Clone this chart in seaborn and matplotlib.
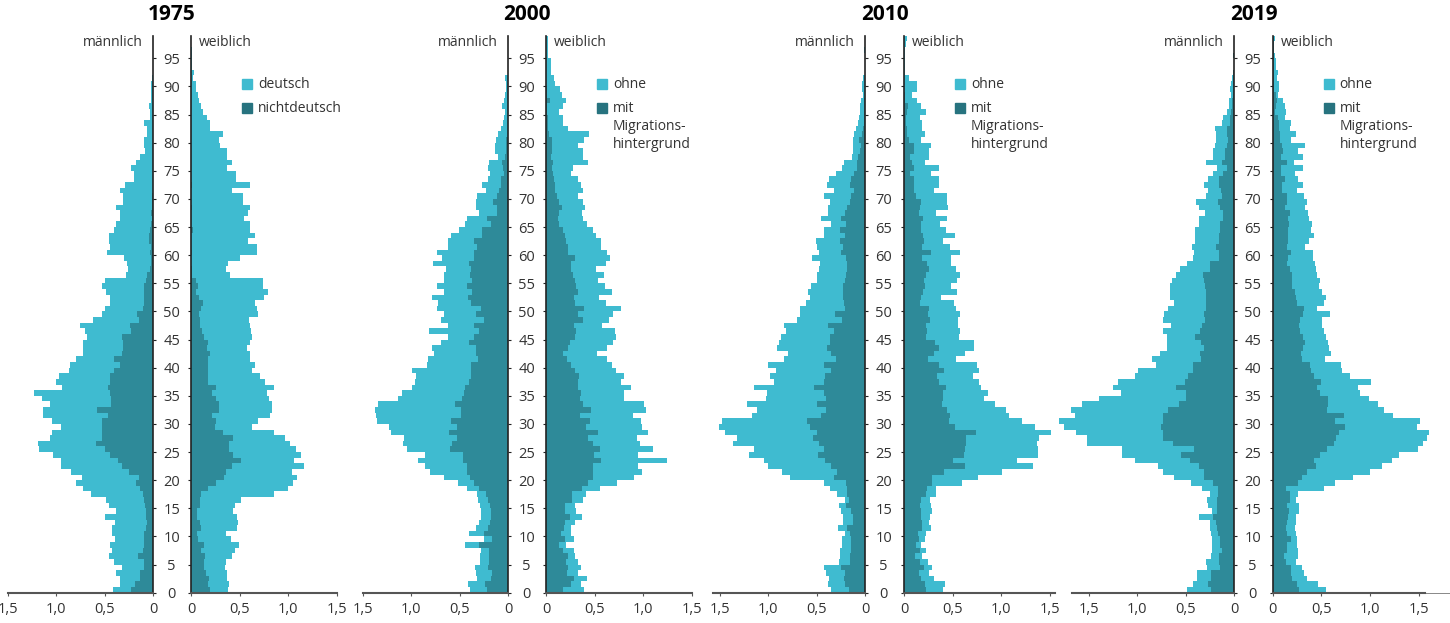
import numpy as np
import pandas as pd
import matplotlib.pyplot as plt
import seaborn as sns
from matplotlib.patches import Rectangle

# Alter 0..98, Werte = Anteil an der Bevölkerung in %
ages = list(range(99))

# 1975: gesamt (deutsch + nichtdeutsch) und nichtdeutsch
m1975_total = [0.41, 0.34, 0.34, 0.38, 0.32, 0.40, 0.46, 0.42, 0.45, 0.39,
               0.42, 0.42, 0.39, 0.50, 0.38, 0.46, 0.49, 0.64, 0.72, 0.80,
               0.73, 0.85, 0.95, 0.95, 1.03, 1.18, 1.19, 1.06, 1.04, 0.95,
               1.04, 1.13, 1.13, 1.06, 1.14, 1.23, 0.94, 1.00, 0.97, 0.87,
               0.86, 0.80, 0.72, 0.72, 0.72, 0.68, 0.70, 0.75, 0.62, 0.53,
               0.50, 0.45, 0.45, 0.49, 0.53, 0.50, 0.28, 0.26, 0.27, 0.30,
               0.48, 0.45, 0.46, 0.46, 0.40, 0.38, 0.34, 0.34, 0.38, 0.31,
               0.31, 0.34, 0.29, 0.20, 0.20, 0.23, 0.18, 0.14, 0.085, 0.10,
               0.10, 0.06, 0.06, 0.10, 0.035, 0.035, 0.04, 0.025, 0.025, 0.025,
               0.02, 0.01, 0, 0, 0, 0, 0, 0, 0]
m1975_nd = [0.23, 0.19, 0.14, 0.14, 0.10, 0.10, 0.16, 0.11, 0.10, 0.10,
            0.10, 0.08, 0.06, 0.07, 0.08, 0.085, 0.10, 0.11, 0.14, 0.18,
            0.15, 0.25, 0.32, 0.36, 0.45, 0.50, 0.59, 0.53, 0.53, 0.53,
            0.53, 0.47, 0.58, 0.44, 0.44, 0.45, 0.47, 0.45, 0.45, 0.40,
            0.34, 0.40, 0.32, 0.31, 0.31, 0.32, 0.23, 0.24, 0.15, 0.17,
            0.11, 0.10, 0.10, 0.10, 0.10, 0.08, 0.06, 0.03, 0.02, 0.02,
            0.03, 0.02, 0.045, 0.045, 0.03, 0.02, 0.01, 0.02, 0.01, 0.01,
            0.01, 0, 0, 0, 0, 0, 0, 0, 0, 0,
            0, 0, 0, 0, 0, 0, 0, 0, 0, 0,
            0, 0, 0, 0, 0, 0, 0, 0, 0]
f1975_total = [0.38, 0.39, 0.37, 0.37, 0.35, 0.36, 0.42, 0.45, 0.49, 0.41,
               0.36, 0.47, 0.48, 0.47, 0.43, 0.45, 0.51, 0.85, 1.00, 1.05,
               1.09, 1.04, 1.16, 1.06, 1.13, 1.08, 1.02, 0.97, 0.85, 0.63,
               0.69, 0.81, 0.83, 0.83, 0.80, 0.78, 0.85, 0.76, 0.71, 0.63,
               0.66, 0.61, 0.61, 0.58, 0.61, 0.63, 0.62, 0.61, 0.60, 0.69,
               0.68, 0.66, 0.75, 0.79, 0.74, 0.74, 0.40, 0.36, 0.38, 0.50,
               0.68, 0.68, 0.59, 0.66, 0.61, 0.61, 0.55, 0.59, 0.61, 0.53,
               0.53, 0.42, 0.61, 0.46, 0.46, 0.37, 0.42, 0.37, 0.37, 0.30,
               0.29, 0.33, 0.20, 0.20, 0.16, 0.12, 0.10, 0.08, 0.07, 0.05,
               0.05, 0.025, 0.03, 0.015, 0.015, 0.012, 0.008, 0.005, 0]
f1975_nd = [0.20, 0.18, 0.19, 0.15, 0.13, 0.13, 0.14, 0.10, 0.13, 0.075,
            0.065, 0.10, 0.09, 0.065, 0.065, 0.09, 0.09, 0.10, 0.18, 0.26,
            0.34, 0.36, 0.42, 0.51, 0.43, 0.39, 0.39, 0.43, 0.33, 0.25,
            0.26, 0.22, 0.29, 0.29, 0.26, 0.22, 0.26, 0.18, 0.18, 0.18,
            0.18, 0.18, 0.20, 0.16, 0.17, 0.13, 0.11, 0.09, 0.09, 0.08,
            0.10, 0.12, 0.08, 0.05, 0.07, 0.05, 0.015, 0.015, 0, 0,
            0.01, 0, 0, 0, 0.025, 0, 0, 0, 0.01, 0,
            0, 0, 0.01, 0, 0, 0, 0, 0, 0, 0,
            0, 0, 0, 0, 0, 0, 0, 0, 0, 0,
            0, 0, 0, 0, 0, 0, 0, 0, 0]

# 2000: gesamt (ohne + mit) und mit Migrationshintergrund
m2000_total = [0.39, 0.41, 0.32, 0.33, 0.34, 0.29, 0.29, 0.28, 0.45, 0.25,
               0.40, 0.33, 0.30, 0.28, 0.28, 0.29, 0.31, 0.32, 0.43, 0.52,
               0.66, 0.81, 0.86, 0.93, 0.86, 1.04, 1.08, 1.07, 1.21, 1.23,
               1.35, 1.36, 1.37, 1.34, 1.13, 1.09, 0.99, 0.96, 0.95, 0.99,
               0.84, 0.83, 0.76, 0.78, 0.69, 0.62, 0.82, 0.62, 0.69, 0.66,
               0.73, 0.72, 0.78, 0.66, 0.73, 0.66, 0.66, 0.64, 0.77, 0.68,
               0.73, 0.62, 0.62, 0.59, 0.51, 0.45, 0.43, 0.30, 0.33, 0.33,
               0.32, 0.23, 0.27, 0.21, 0.19, 0.21, 0.20, 0.11, 0.14, 0.14,
               0.13, 0.11, 0.08, 0.05, 0.045, 0.03, 0.06, 0.045, 0.03, 0.02,
               0.02, 0.035, 0, 0, 0, 0, 0, 0, 0]
m2000_mh = [0.22, 0.24, 0.18, 0.17, 0.21, 0.20, 0.20, 0.20, 0.30, 0.17,
            0.25, 0.21, 0.19, 0.18, 0.18, 0.19, 0.21, 0.23, 0.30, 0.35,
            0.39, 0.43, 0.43, 0.47, 0.47, 0.60, 0.58, 0.53, 0.61, 0.53,
            0.59, 0.49, 0.49, 0.55, 0.48, 0.46, 0.45, 0.40, 0.38, 0.38,
            0.38, 0.31, 0.33, 0.33, 0.40, 0.35, 0.30, 0.35, 0.25, 0.33,
            0.28, 0.38, 0.41, 0.37, 0.43, 0.37, 0.39, 0.38, 0.40, 0.35,
            0.35, 0.32, 0.35, 0.27, 0.27, 0.18, 0.22, 0.12, 0.12, 0.16,
            0.12, 0.10, 0.08, 0.07, 0.045, 0.05, 0.06, 0.03, 0.02, 0.02,
            0.02, 0, 0, 0, 0, 0, 0, 0, 0, 0,
            0, 0, 0, 0, 0, 0, 0, 0, 0]
f2000_total = [0.39, 0.36, 0.42, 0.33, 0.36, 0.33, 0.30, 0.29, 0.21, 0.29,
               0.26, 0.26, 0.30, 0.37, 0.31, 0.30, 0.38, 0.41, 0.56, 0.73,
               0.91, 0.99, 0.95, 1.24, 0.95, 1.10, 0.97, 0.94, 1.05, 0.99,
               0.98, 0.89, 1.03, 1.01, 0.80, 0.80, 0.87, 0.77, 0.80, 0.72,
               0.68, 0.63, 0.52, 0.63, 0.69, 0.72, 0.71, 0.58, 0.65, 0.69,
               0.77, 0.62, 0.55, 0.68, 0.61, 0.54, 0.60, 0.51, 0.62, 0.66,
               0.63, 0.57, 0.57, 0.51, 0.48, 0.42, 0.38, 0.37, 0.40, 0.38,
               0.33, 0.38, 0.36, 0.33, 0.26, 0.28, 0.43, 0.38, 0.38, 0.33,
               0.39, 0.44, 0.23, 0.18, 0.18, 0.13, 0.17, 0.21, 0.16, 0.14,
               0.09, 0.08, 0.05, 0.05, 0.05, 0.02, 0.02, 0.02, 0.02]
f2000_mh = [0.18, 0.26, 0.29, 0.22, 0.23, 0.21, 0.23, 0.17, 0.13, 0.20,
            0.15, 0.19, 0.20, 0.25, 0.20, 0.20, 0.27, 0.27, 0.37, 0.43,
            0.48, 0.48, 0.48, 0.57, 0.49, 0.56, 0.48, 0.43, 0.53, 0.41,
            0.45, 0.35, 0.46, 0.38, 0.35, 0.36, 0.33, 0.33, 0.34, 0.30,
            0.26, 0.22, 0.18, 0.23, 0.25, 0.30, 0.31, 0.29, 0.38, 0.33,
            0.39, 0.30, 0.29, 0.33, 0.31, 0.30, 0.28, 0.26, 0.26, 0.30,
            0.23, 0.23, 0.21, 0.20, 0.17, 0.13, 0.12, 0.13, 0.16, 0.13,
            0.11, 0.09, 0.09, 0.08, 0.075, 0.065, 0.075, 0.05, 0.06, 0.06,
            0.06, 0.03, 0.02, 0.02, 0.02, 0.01, 0.01, 0.04, 0.01, 0.01,
            0, 0, 0, 0, 0, 0, 0, 0, 0]

# 2010
m2010_total = [0.35, 0.38, 0.37, 0.40, 0.42, 0.27, 0.26, 0.26, 0.24, 0.24,
               0.21, 0.28, 0.23, 0.23, 0.25, 0.27, 0.21, 0.29, 0.36, 0.42,
               0.77, 0.86, 1.00, 1.04, 1.20, 1.15, 1.36, 1.32, 1.44, 1.51,
               1.47, 1.17, 1.11, 1.22, 1.02, 1.01, 1.15, 0.94, 0.98, 0.92,
               1.00, 0.84, 0.80, 0.91, 0.89, 0.87, 0.82, 0.84, 0.70, 0.67,
               0.67, 0.61, 0.57, 0.59, 0.56, 0.50, 0.50, 0.48, 0.47, 0.55,
               0.48, 0.50, 0.51, 0.42, 0.43, 0.35, 0.46, 0.38, 0.38, 0.36,
               0.42, 0.32, 0.39, 0.37, 0.30, 0.24, 0.22, 0.14, 0.13, 0.13,
               0.13, 0.12, 0.10, 0.07, 0.06, 0.055, 0.05, 0.04, 0.02, 0.03,
               0.03, 0.02, 0.005, 0.005, 0.005, 0.005, 0.015, 0, 0]
m2010_mh = [0.17, 0.21, 0.22, 0.21, 0.25, 0.16, 0.16, 0.15, 0.15, 0.15,
            0.16, 0.19, 0.13, 0.13, 0.15, 0.20, 0.17, 0.19, 0.19, 0.20,
            0.32, 0.29, 0.35, 0.41, 0.49, 0.43, 0.48, 0.54, 0.50, 0.57,
            0.60, 0.46, 0.40, 0.50, 0.40, 0.42, 0.53, 0.42, 0.41, 0.35,
            0.42, 0.30, 0.35, 0.39, 0.36, 0.36, 0.32, 0.38, 0.24, 0.31,
            0.21, 0.22, 0.23, 0.23, 0.23, 0.21, 0.20, 0.19, 0.19, 0.20,
            0.25, 0.23, 0.26, 0.21, 0.26, 0.20, 0.25, 0.21, 0.19, 0.16,
            0.15, 0.12, 0.16, 0.15, 0.12, 0.09, 0.09, 0.07, 0.05, 0.045,
            0.065, 0.03, 0.02, 0.015, 0.015, 0.015, 0.01, 0.01, 0.005, 0.005,
            0.005, 0.005, 0.005, 0.005, 0.005, 0.005, 0, 0, 0]
f2010_total = [0.40, 0.42, 0.31, 0.26, 0.29, 0.25, 0.19, 0.23, 0.18, 0.22,
               0.23, 0.28, 0.26, 0.27, 0.29, 0.28, 0.27, 0.33, 0.33, 0.60,
               0.76, 1.01, 1.33, 1.16, 1.38, 1.38, 1.37, 1.39, 1.51, 1.35,
               1.21, 1.08, 1.05, 0.94, 0.82, 0.86, 0.79, 0.77, 0.71, 0.77,
               0.75, 0.53, 0.63, 0.72, 0.72, 0.57, 0.58, 0.56, 0.56, 0.58,
               0.54, 0.51, 0.38, 0.55, 0.48, 0.55, 0.58, 0.53, 0.48, 0.48,
               0.58, 0.47, 0.40, 0.52, 0.43, 0.37, 0.44, 0.33, 0.45, 0.44,
               0.44, 0.31, 0.36, 0.36, 0.28, 0.36, 0.22, 0.26, 0.26, 0.28,
               0.18, 0.22, 0.19, 0.19, 0.16, 0.23, 0.17, 0.13, 0.08, 0.13,
               0.13, 0.05, 0.01, 0.01, 0.01, 0.01, 0.01, 0.02, 0.03]
f2010_mh = [0.23, 0.22, 0.18, 0.15, 0.21, 0.16, 0.11, 0.16, 0.12, 0.15,
            0.14, 0.19, 0.19, 0.17, 0.17, 0.16, 0.18, 0.23, 0.24, 0.29,
            0.29, 0.41, 0.63, 0.50, 0.62, 0.63, 0.64, 0.64, 0.74, 0.52,
            0.46, 0.47, 0.44, 0.39, 0.40, 0.40, 0.43, 0.36, 0.34, 0.41,
            0.36, 0.25, 0.31, 0.36, 0.32, 0.23, 0.24, 0.23, 0.27, 0.25,
            0.26, 0.16, 0.18, 0.20, 0.22, 0.21, 0.23, 0.26, 0.24, 0.19,
            0.28, 0.19, 0.21, 0.20, 0.18, 0.17, 0.20, 0.15, 0.16, 0.17,
            0.12, 0.10, 0.10, 0.10, 0.06, 0.10, 0.08, 0.06, 0.10, 0.10,
            0.05, 0.035, 0.035, 0.02, 0.02, 0.03, 0.045, 0.01, 0.01, 0.005,
            0.005, 0.005, 0.005, 0.005, 0.005, 0.005, 0.005, 0.005, 0.005]

# 2019
m2019_total = [0.49, 0.42, 0.38, 0.38, 0.28, 0.29, 0.24, 0.23, 0.23, 0.23,
               0.24, 0.25, 0.25, 0.36, 0.23, 0.27, 0.28, 0.25, 0.33, 0.45,
               0.62, 0.73, 0.79, 1.02, 1.16, 1.16, 1.52, 1.52, 1.63, 1.75,
               1.80, 1.64, 1.68, 1.57, 1.39, 1.17, 1.25, 1.20, 1.02, 0.99,
               0.81, 0.85, 0.76, 0.69, 0.69, 0.69, 0.73, 0.65, 0.73, 0.72,
               0.68, 0.62, 0.66, 0.66, 0.66, 0.64, 0.60, 0.56, 0.49, 0.43,
               0.41, 0.44, 0.40, 0.40, 0.40, 0.36, 0.36, 0.30, 0.36, 0.39,
               0.29, 0.27, 0.31, 0.27, 0.22, 0.18, 0.29, 0.22, 0.22, 0.20,
               0.19, 0.19, 0.20, 0.13, 0.12, 0.08, 0.05, 0.055, 0.03, 0.04,
               0.03, 0.02, 0.01, 0.005, 0.005, 0.01, 0, 0, 0]
m2019_mh = [0.24, 0.27, 0.24, 0.24, 0.15, 0.16, 0.16, 0.13, 0.15, 0.15,
            0.17, 0.18, 0.19, 0.22, 0.18, 0.18, 0.18, 0.17, 0.17, 0.22,
            0.31, 0.31, 0.36, 0.46, 0.55, 0.41, 0.63, 0.73, 0.73, 0.75,
            0.73, 0.73, 0.68, 0.57, 0.50, 0.50, 0.60, 0.51, 0.48, 0.42,
            0.43, 0.34, 0.35, 0.31, 0.34, 0.40, 0.35, 0.33, 0.30, 0.31,
            0.29, 0.29, 0.29, 0.29, 0.30, 0.31, 0.32, 0.25, 0.25, 0.16,
            0.16, 0.19, 0.16, 0.16, 0.15, 0.15, 0.12, 0.12, 0.15, 0.17,
            0.13, 0.14, 0.16, 0.16, 0.12, 0.07, 0.13, 0.10, 0.10, 0.08,
            0.06, 0.08, 0.07, 0.045, 0.045, 0.03, 0.02, 0.02, 0.01, 0.01,
            0.01, 0.01, 0.01, 0.005, 0.005, 0.01, 0, 0, 0]
f2019_total = [0.55, 0.47, 0.35, 0.32, 0.30, 0.24, 0.26, 0.26, 0.25, 0.25,
               0.24, 0.23, 0.24, 0.24, 0.27, 0.27, 0.24, 0.26, 0.53, 0.64,
               0.83, 1.00, 1.12, 1.23, 1.30, 1.49, 1.55, 1.59, 1.61, 1.48,
               1.52, 1.24, 1.15, 1.08, 0.99, 0.90, 0.88, 1.01, 0.80, 0.71,
               0.70, 0.54, 0.60, 0.58, 0.57, 0.55, 0.53, 0.51, 0.51, 0.59,
               0.46, 0.53, 0.55, 0.51, 0.48, 0.49, 0.46, 0.45, 0.44, 0.41,
               0.41, 0.33, 0.37, 0.43, 0.39, 0.40, 0.37, 0.36, 0.33, 0.35,
               0.32, 0.25, 0.31, 0.26, 0.23, 0.31, 0.22, 0.31, 0.26, 0.33,
               0.19, 0.24, 0.18, 0.19, 0.13, 0.14, 0.13, 0.11, 0.05, 0.06,
               0.065, 0.04, 0.05, 0.03, 0.035, 0.025, 0.015, 0.015, 0.02]
f2019_mh = [0.27, 0.25, 0.195, 0.185, 0.185, 0.14, 0.12, 0.15, 0.145, 0.185,
            0.15, 0.14, 0.15, 0.16, 0.17, 0.145, 0.18, 0.18, 0.14, 0.26,
            0.30, 0.35, 0.45, 0.43, 0.49, 0.56, 0.63, 0.65, 0.68, 0.74,
            0.64, 0.73, 0.56, 0.57, 0.57, 0.49, 0.46, 0.50, 0.43, 0.39,
            0.38, 0.30, 0.29, 0.31, 0.33, 0.31, 0.28, 0.27, 0.28, 0.31,
            0.32, 0.25, 0.24, 0.23, 0.195, 0.20, 0.195, 0.18, 0.15, 0.155,
            0.185, 0.145, 0.155, 0.16, 0.155, 0.17, 0.155, 0.18, 0.13, 0.145,
            0.145, 0.10, 0.10, 0.13, 0.09, 0.085, 0.145, 0.09, 0.11, 0.10,
            0.075, 0.075, 0.06, 0.06, 0.05, 0.025, 0.035, 0.04, 0.03, 0.01,
            0.01, 0.01, 0.01, 0.01, 0.01, 0.01, 0.01, 0.01, 0.01]

titles = ["1975", "2000", "2010", "2019"]
legend_1975 = ["deutsch", "nichtdeutsch"]
legend_mig = ["ohne", "mit\nMigrations-\nhintergrund"]

LIGHT = "#3fbbd0"
DARK = "#2e8a99"
DARK_LEG = "#27737f"
TXT = "#333333"
FS = 10

sns.set_theme(style="white")
plt.rcParams['font.family'] = ['Open Sans', 'DejaVu Sans']

W, H = 1450, 623
fig = plt.figure(figsize=(W / 100, H / 100), dpi=100)

PX = 97.2          # Pixel je 1 %
Y0, YTOP = 592.7, 99   # Pixelzeile für Alter 0, oberes Ende der Achse
YPX = 5.625        # Pixel je Altersjahr

# je Panel: Nullpunkt männlich / weiblich (px), xlim, Länge der Grundlinie
layout = [
    dict(zm=153.3, zf=191.0, xm=1.5, sm=1.5, xf=1.5, sf=1.5),
    dict(zm=508.3, zf=546.0, xm=1.5, sm=1.5, xf=1.5, sf=1.5),
    dict(zm=865.3, zf=904.0, xm=1.57, sm=1.57, xf=1.55, sf=1.55),
    dict(zm=1234.3, zf=1272.7, xm=1.85, sm=1.665, xf=1.83, sf=1.57),
]
data = [
    (m1975_total, m1975_nd, f1975_total, f1975_nd),
    (m2000_total, m2000_mh, f2000_total, f2000_mh),
    (m2010_total, m2010_mh, f2010_total, f2010_mh),
    (m2019_total, m2019_mh, f2019_total, f2019_mh),
]

bottom = (H - Y0) / H
height = YTOP * YPX / H


def pyramid_side(ax, total, inner):
    df = pd.DataFrame({"pos": np.array(ages) + 0.5, "total": total, "inner": inner})
    sns.barplot(data=df, x="total", y="pos", orient="y", native_scale=True,
                width=1, color=LIGHT, saturation=1, linewidth=0, errorbar=None, ax=ax)
    sns.barplot(data=df, x="inner", y="pos", orient="y", native_scale=True,
                width=1, color=DARK, saturation=1, linewidth=0, errorbar=None, ax=ax)
    ax.set_ylim(0, YTOP)
    ax.set_xlabel("")
    ax.set_ylabel("")
    ax.set_xticks([0, 0.5, 1.0, 1.5])
    ax.set_xticklabels(["0", "0,5", "1,0", "1,5"])
    ax.tick_params(axis="x", bottom=True, direction="out", length=2.2, width=0.8,
                   color="#555555", labelsize=FS + 0.5, labelcolor=TXT, pad=4.5)
    ax.spines["top"].set_visible(False)
    ax.spines["bottom"].set_color("#555555")
    ax.spines["bottom"].set_linewidth(1.5)
    ax.set_facecolor("none")


for i, lay in enumerate(layout):
    mt, mi, ft, fi = data[i]

    # männlich
    w = lay["xm"] * PX
    axm = fig.add_axes([(lay["zm"] - w) / W, bottom, w / W, height])
    pyramid_side(axm, mt, mi)
    axm.set_xlim(lay["xm"], 0)
    axm.spines["left"].set_visible(False)
    axm.spines["right"].set_color("#222222")
    axm.spines["right"].set_linewidth(1.2)
    axm.spines["bottom"].set_bounds(0, lay["sm"])
    axm.yaxis.tick_right()
    axm.set_yticks(range(0, 96, 5))
    axm.set_yticklabels([str(a) for a in range(0, 96, 5)])
    axm.tick_params(axis="y", right=True, left=False, direction="out", length=2.4,
                    width=0.8, color="#222222", labelsize=FS + 0.5, labelcolor=TXT, pad=10.8)
    for lbl in axm.get_yticklabels():
        lbl.set_horizontalalignment("center")

    # weiblich
    w = lay["xf"] * PX
    axf = fig.add_axes([lay["zf"] / W, bottom, w / W, height])
    pyramid_side(axf, ft, fi)
    axf.set_xlim(0, lay["xf"])
    axf.spines["right"].set_visible(False)
    axf.spines["left"].set_color("#222222")
    axf.spines["left"].set_linewidth(1.2)
    axf.spines["bottom"].set_bounds(0, lay["sf"])
    axf.set_yticks(range(0, 96, 5))
    axf.tick_params(axis="y", left=True, right=False, labelleft=False, direction="out",
                    length=2.4, width=0.8, color="#222222")
    if lay["xf"] > lay["sf"] + 0.05:
        axf.axhline(0, xmin=lay["sf"] / lay["xf"], xmax=1, color="#888888", lw=0.7,
                    clip_on=False)

    # Beschriftungen
    cx = (lay["zm"] + lay["zf"]) / 2
    fig.text(cx / W, 1 - 15 / H, titles[i], ha="center", va="center",
             fontsize=15, fontweight="bold", color="black")
    fig.text((lay["zm"] - 11) / W, 1 - 43 / H, "männlich", ha="right", va="center",
             fontsize=FS, color=TXT)
    fig.text((lay["zf"] + 8) / W, 1 - 43 / H, "weiblich", ha="left", va="center",
             fontsize=FS, color=TXT)

    labels = legend_1975 if i == 0 else legend_mig
    sq_x = lay["zf"] + 51
    for lab, col, ytop in zip(labels, [LIGHT, DARK_LEG], [79, 103]):
        fig.patches.append(Rectangle((sq_x / W, 1 - (ytop + 10) / H), 10 / W, 10 / H,
                                     transform=fig.transFigure, color=col))
        for k, line in enumerate(lab.split("\n")):
            fig.text((sq_x + 16) / W, 1 - (ytop + 5 + 18 * k) / H, line,
                     ha="left", va="center", fontsize=FS, color=TXT)

fig.savefig("out.png", dpi=100)
